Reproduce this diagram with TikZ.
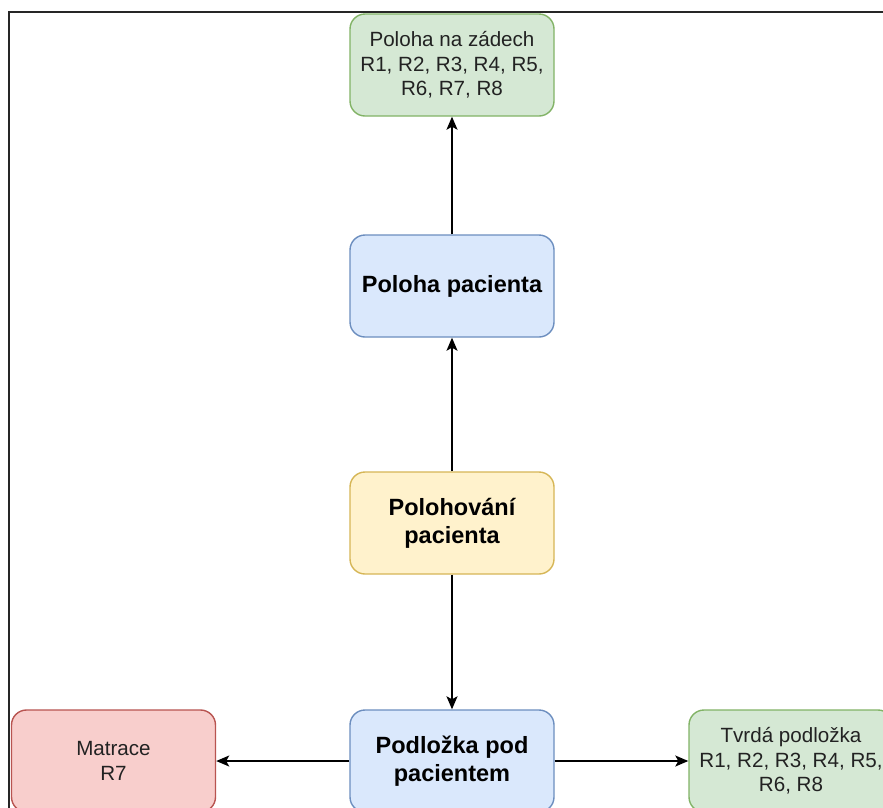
\documentclass[tikz,border=0pt]{standalone}
\usepackage{fontspec}
\setmainfont{Liberation Sans}
\usetikzlibrary{arrows.meta}
\definecolor{gfill}{HTML}{D5E8D4}\definecolor{gline}{HTML}{82B366}
\definecolor{bfill}{HTML}{DAE8FC}\definecolor{bline}{HTML}{6C8EBF}
\definecolor{yfill}{HTML}{FFF2CC}\definecolor{yline}{HTML}{D6B656}
\definecolor{rfill}{HTML}{F8CECC}\definecolor{rline}{HTML}{B85450}
\definecolor{txt}{HTML}{222222}
\tikzset{
  box/.style={rectangle, rounded corners=15pt, minimum width=204pt, minimum height=102pt,
    line width=1.4pt, align=center, inner sep=0pt, text=txt},
  plainbox/.style={box, font=\fontsize{20.6}{24.5}\selectfont},
  boldbox/.style={box, font=\fontsize{23.5}{28}\selectfont\bfseries, text=black},
  greenbox/.style={fill=gfill, draw=gline},
  bluebox/.style={fill=bfill, draw=bline},
  yellowbox/.style={fill=yfill, draw=yline},
  redbox/.style={fill=rfill, draw=rline},
  conn/.style={line width=1.6pt, -{Stealth[length=13pt, width=11pt, inset=3pt]}}
}
\begin{document}
\begin{tikzpicture}[x=1pt, y=-1pt]
\useasboundingbox (0,0) rectangle (883,807);
\begin{scope}
\clip (0,0) rectangle (883,807);
\fill[white] (0,0) rectangle (883,807);
\draw[line width=2.2pt, black!85] (9,820) -- (9,12) -- (900,12);
\node[plainbox, greenbox] (zadech) at (452,65) {Poloha na zádech\\R1, R2, R3, R4, R5,\\R6, R7, R8};
\node[boldbox, bluebox] (poloha) at (452,286) {Poloha pacienta};
\node[boldbox, yellowbox] (polohovani) at (452,523) {Polohování\\pacienta};
\node[boldbox, bluebox] (podlozka) at (452,761) {Podložka pod\\pacientem};
\node[plainbox, redbox] (matrace) at (113.5,761) {Matrace\\R7};
\node[plainbox, greenbox] (tvrda) at (791,761) {Tvrdá podložka\\R1, R2, R3, R4, R5,\\R6, R8};
\draw[conn] (polohovani) -- (poloha);
\draw[conn] (poloha) -- (zadech);
\draw[conn] (polohovani) -- (podlozka);
\draw[conn] (podlozka) -- (matrace);
\draw[conn] (podlozka) -- (tvrda);
\end{scope}
\end{tikzpicture}
\end{document}
